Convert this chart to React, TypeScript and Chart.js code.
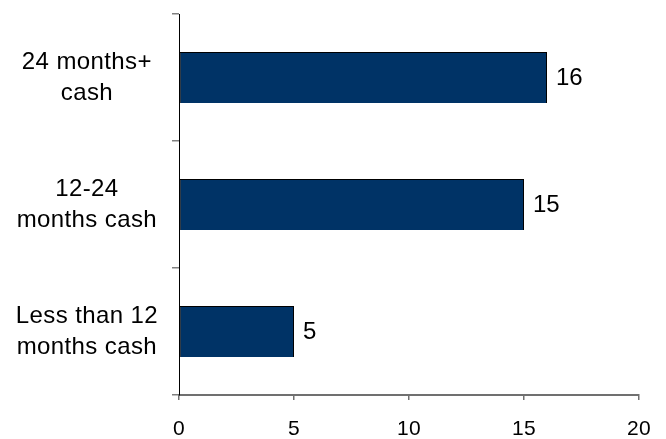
import React, { useEffect, useRef } from "react";
import { Chart, registerables } from "chart.js";

Chart.register(...registerables);

const categories: string[][] = [
  ["24 months+", "cash"],
  ["12-24", "months cash"],
  ["Less than 12", "months cash"],
];
const values: number[] = [16, 15, 5];
const xTicks: number[] = [0, 5, 10, 15, 20];

const FONT = "'Liberation Sans', Arial, sans-serif";
const SPACING = "0.4px";

const spacingPlugin = {
  id: "spacing",
  beforeUpdate(chart: any) {
    (chart.ctx as any).letterSpacing = SPACING;
  },
  beforeLayout(chart: any) {
    (chart.ctx as any).letterSpacing = SPACING;
  },
  beforeDraw(chart: any) {
    (chart.ctx as any).letterSpacing = SPACING;
  },
};

const valueLabels = {
  id: "valueLabels",
  afterDatasetsDraw(chart: any) {
    const ctx = chart.ctx;
    const meta = chart.getDatasetMeta(0);
    ctx.save();
    (ctx as any).letterSpacing = "0px";
    ctx.fillStyle = "#000";
    ctx.font = `24px ${FONT}`;
    ctx.textAlign = "left";
    ctx.textBaseline = "middle";
    meta.data.forEach((bar: any, i: number) => {
      ctx.fillText(String(values[i]), bar.x + 9, bar.y + 1);
    });
    ctx.restore();
  },
};

export default function App() {
  const ref = useRef<HTMLCanvasElement | null>(null);
  useEffect(() => {
    document.body.style.margin = "0";
    if (!ref.current) return;
    const chart = new Chart(ref.current, {
      type: "bar",
      data: {
        labels: categories,
        datasets: [
          {
            data: values,
            backgroundColor: "#003366",
            borderColor: "#000",
            borderWidth: { top: 1, right: 1, bottom: 0, left: 1 },
            borderSkipped: false,
            barPercentage: 0.4,
            categoryPercentage: 1,
          },
        ],
      },
      options: {
        indexAxis: "y",
        animation: false,
        responsive: true,
        maintainAspectRatio: false,
        layout: { padding: { top: 14, right: 27, left: 0, bottom: 0 } },
        plugins: {
          legend: { display: false },
          tooltip: { enabled: false },
        },
        scales: {
          x: {
            min: xTicks[0],
            max: xTicks[xTicks.length - 1],
            afterBuildTicks: (scale: any) => {
              scale.ticks = xTicks.map((v) => ({ value: v }));
            },
            afterFit: (scale: any) => {
              scale.height = 44;
              scale.paddingLeft = 0;
              scale.paddingRight = 0;
            },
            ticks: {
              color: "#000",
              font: { family: FONT, size: 21 },
              padding: 17,
            },
            grid: {
              drawOnChartArea: false,
              drawTicks: true,
              tickLength: 5,
              tickColor: "#707070",
              lineWidth: 1.5,
            },
            border: { color: "#707070", width: 2 },
          },
          y: {
            afterFit: (scale: any) => {
              scale.width = 179;
              scale.paddingTop = 0;
              scale.paddingBottom = 0;
            },
            ticks: {
              color: "#000",
              font: { family: FONT, size: 24, lineHeight: 1.3 },
              crossAlign: "center",
              padding: 14,
            },
            grid: {
              drawOnChartArea: false,
              drawTicks: true,
              tickLength: 7,
              tickColor: "#808080",
              lineWidth: 1.5,
            },
            border: { color: "#000", width: 1 },
          },
        },
      },
      plugins: [spacingPlugin, valueLabels],
    });
    return () => chart.destroy();
  }, []);
  return (
    <div style={{ width: 666, height: 439, position: "relative" }}>
      <canvas ref={ref} />
    </div>
  );
}
